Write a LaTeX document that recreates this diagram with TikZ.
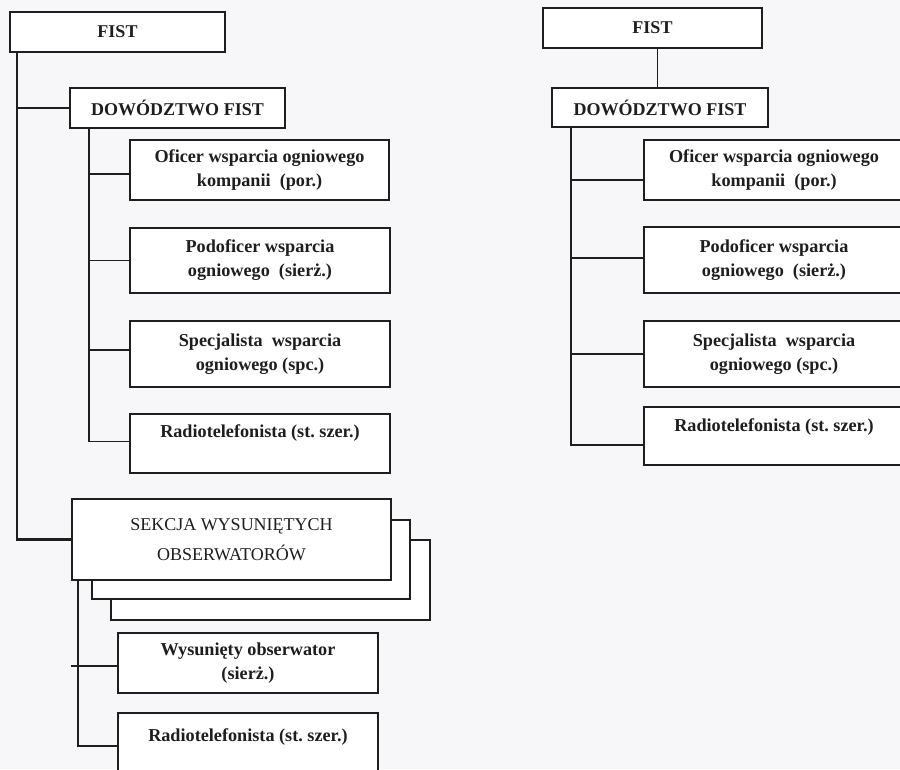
\documentclass[tikz,border=0pt]{standalone}
\usepackage{fontspec}
\setmainfont{Liberation Serif}
\definecolor{ink}{HTML}{1E1E1E}
\definecolor{paper}{HTML}{F7F7F9}
\tikzset{
  heavybox/.style={draw=ink, line width=2.6pt, fill=white, inner sep=0pt, align=center,
    font=\fontsize{18}{24}\selectfont\bfseries, text=ink},
  lightbox/.style={draw=ink, line width=1.3pt, fill=white, inner sep=0pt, align=center,
    font=\fontsize{18.2}{24}\selectfont\bfseries, text=ink},
  boxtext/.style={inner sep=0pt, align=center, font=\fontsize{18.2}{24}\selectfont\bfseries, text=ink},
  link/.style={draw=ink, line width=1.8pt},
  trunk/.style={draw=ink, line width=2.3pt},
}
\begin{document}
\begin{tikzpicture}[x=1pt, y=-1pt]
  \fill[paper] (0,0) rectangle (900,769);
  \useasboundingbox (0,0) rectangle (900,769);
  \begin{scope}
  \clip (0,0) rectangle (900,769);

  % ---------- left chart ----------
  \node[heavybox, minimum width=215pt, minimum height=40pt] (fistL) at (117.5,32) {FIST};
  \node[heavybox, minimum width=215pt, minimum height=40pt] (dowL) at (177.5,108) {DOWÓDZTWO FIST};
  \node[lightbox, minimum width=259pt, minimum height=60pt] (oficerL) at (259.5,170)
    {Oficer wsparcia ogniowego\\kompanii\ \ (por.)};
  \node[lightbox, minimum width=260pt, minimum height=65pt] (podL) at (260,260.5)
    {Podoficer wsparcia\\ogniowego\ \ (sierż.)};
  \node[lightbox, minimum width=260pt, minimum height=66pt] (specL) at (260,354)
    {Specjalista\ \ wsparcia\\ogniowego (spc.)};
  \node[lightbox, minimum width=260pt, minimum height=59pt] (radL) at (260,443.5) {};
  \node[boxtext, anchor=center] (radLt) at ([yshift=10pt]radL.center) {Radiotelefonista (st.\ szer.)};

  % stacked section boxes, back to front
  \node[heavybox, minimum width=319pt, minimum height=80pt] (sek3) at (270.5,580) {};
  \node[heavybox, minimum width=318pt, minimum height=79pt] (sek2) at (251,559.5) {};
  \node[heavybox, minimum width=319pt, minimum height=81pt, font=\fontsize{18}{30}\selectfont]
    (sek1) at (231.5,539.5) {SEKCJA WYSUNIĘTYCH\\OBSERWATORÓW};

  \node[lightbox, minimum width=260pt, minimum height=60pt] (wysL) at (248,663)
    {Wysunięty obserwator\\(sierż.)};
  \node[lightbox, minimum width=260pt, minimum height=62pt] (rad2L) at (248,744) {};
  \node[boxtext, anchor=center] (rad2Lt) at ([yshift=7pt]rad2L.center) {Radiotelefonista (st.\ szer.)};

  % left connectors
  \coordinate (tL) at ([xshift=8pt]fistL.south west);
  \draw[trunk] (tL) |- (sek1.west);
  \draw[link] (dowL.west) -- (dowL.west -| tL);
  \coordinate (bL) at ([xshift=20pt]dowL.south west);
  \draw[link] (bL) |- ([yshift=2pt]radL.west);
  \draw[link] ([yshift=-4pt]oficerL.west) -- ([yshift=-4pt]oficerL.west -| bL);
  \draw[link] (podL.west) -- (podL.west -| bL);
  \draw[link] ([yshift=4pt]specL.west) -- ([yshift=4pt]specL.west -| bL);
  \coordinate (cL) at ([xshift=7pt]sek1.south west);
  \draw[link] (cL) |- ([yshift=-2pt]rad2L.west);
  \draw[link] ([yshift=-3pt]wysL.west) -- ([yshift=-3pt,xshift=-7pt]wysL.west -| cL);

  % ---------- right chart ----------
  \node[heavybox, minimum width=219pt, minimum height=40pt] (fistR) at (652.5,28) {FIST};
  \node[heavybox, minimum width=216pt, minimum height=39pt] (dowR) at (660,107.5) {DOWÓDZTWO FIST};
  \node[lightbox, minimum width=260pt, minimum height=60pt] (oficerR) at (774,170)
    {Oficer wsparcia ogniowego\\kompanii\ \ (por.)};
  \node[lightbox, minimum width=260pt, minimum height=66pt] (podR) at (774,260)
    {Podoficer wsparcia\\ogniowego\ \ (sierż.)};
  \node[lightbox, minimum width=260pt, minimum height=66pt] (specR) at (774,354)
    {Specjalista\ \ wsparcia\\ogniowego (spc.)};
  \node[lightbox, minimum width=260pt, minimum height=58pt] (radR) at (774,436) {};
  \node[boxtext, anchor=center] (radRt) at ([yshift=9pt]radR.center) {Radiotelefonista (st.\ szer.)};

  % right connectors
  \draw[link] ([xshift=5pt]fistR.south) -- ([xshift=5pt]fistR.south |- dowR.north);
  \coordinate (bR) at ([xshift=20pt]dowR.south west);
  \draw[link] (bR) |- ([yshift=-9pt]radR.west);
  \draw[link] ([yshift=-10pt]oficerR.west) -- ([yshift=-10pt]oficerR.west -| bR);
  \draw[link] ([yshift=2pt]podR.west) -- ([yshift=2pt]podR.west -| bR);
  \draw[link] (specR.west) -- (specR.west -| bR);
  \end{scope}
\end{tikzpicture}
\end{document}
